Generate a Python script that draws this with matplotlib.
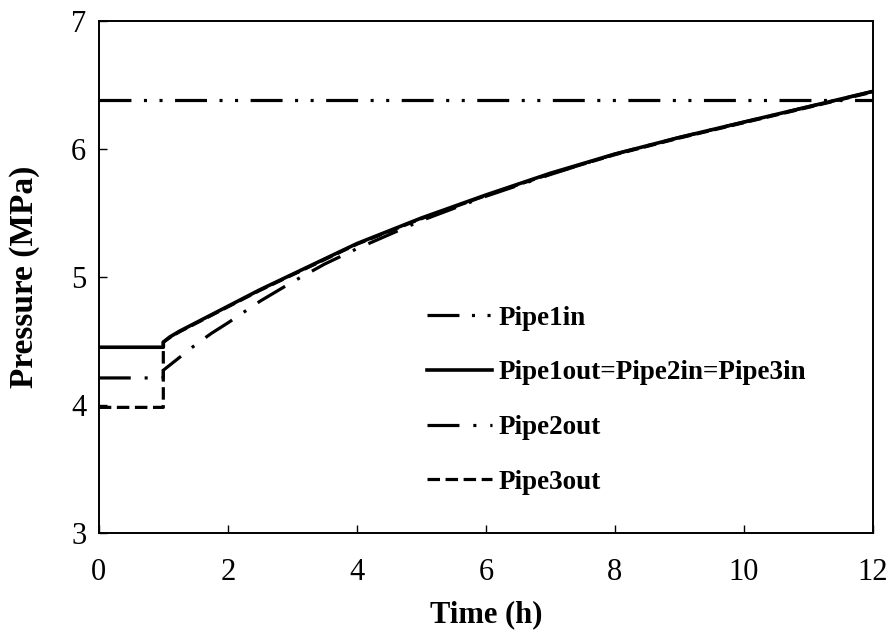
import matplotlib
matplotlib.use("Agg")
import matplotlib.pyplot as plt

plt.rcParams["font.family"] = ["Liberation Serif", "DejaVu Serif"]
plt.rcParams["lines.scale_dashes"] = False

# Time (h) and pressure (MPa) for each pipe end
time_in = [0.0, 12.0]
pipe1in = [6.385, 6.385]

time_main = [0.0, 1.0, 1.0, 1.1, 1.25, 1.5, 2.0, 2.5, 3.0, 3.5, 4.0, 4.5,
             5.0, 6.0, 7.0, 8.0, 9.0, 10.0, 11.0, 12.0]
pipe1out = [4.45, 4.45, 4.49, 4.53, 4.575, 4.64, 4.77, 4.90, 5.02, 5.14,
            5.26, 5.36, 5.46, 5.64, 5.81, 5.96, 6.09, 6.21, 6.33, 6.45]

time_p2 = [0.0, 1.0, 1.0, 1.1, 1.25, 1.5, 1.75, 2.0, 2.5, 3.0, 3.5, 4.0,
           4.5, 5.0, 6.0, 7.0, 8.0, 9.0, 10.0, 11.0, 12.0]
pipe2out = [4.21, 4.21, 4.27, 4.31, 4.37, 4.47, 4.56, 4.64, 4.81, 4.96,
            5.10, 5.22, 5.33, 5.44, 5.63, 5.80, 5.96, 6.09, 6.21, 6.33, 6.45]

pipe3out = [3.98, 3.98, 4.49, 4.525, 4.57, 4.635, 4.765, 4.895, 5.015, 5.135,
            5.255, 5.355, 5.455, 5.635, 5.805, 5.955, 6.085, 6.205, 6.325, 6.445]

x_ticks = [0, 2, 4, 6, 8, 10, 12]
y_ticks = [3, 4, 5, 6, 7]

fig = plt.figure(figsize=(8.9, 6.35), dpi=100)
ax = fig.add_axes([0.111, 0.161, 0.870, 0.806])

lw = 2.3
ax.plot(time_in, pipe1in, color="black", lw=lw,
        dashes=(23, 9, 2.2, 9, 2.2, 9), dash_capstyle="butt", label="Pipe1in", zorder=3)
ax.plot(time_main, pipe3out, color="black", lw=lw,
        dashes=(9, 4), dash_capstyle="butt", label="Pipe3out", zorder=2)
ax.plot(time_main, pipe1out, color="black", lw=lw + 0.3,
        label="Pipe1out=Pipe2in=Pipe3in", zorder=4)
ax.plot(time_p2, pipe2out, color="black", lw=lw,
        dashes=(23, 10, 2.2, 10), dash_capstyle="butt", label="Pipe2out", zorder=3)

ax.set_xlim(0, 12)
ax.set_ylim(3, 7)
ax.set_xticks(x_ticks)
ax.set_yticks(y_ticks)
ax.tick_params(direction="in", length=6, width=1, labelsize=22, top=False, right=False)
ax.tick_params(axis="x", pad=18)
ax.tick_params(axis="y", pad=9)
for s in ax.spines.values():
    s.set_linewidth(1.4)

ax.set_xlabel("Time (h)", fontsize=22, fontweight="bold", labelpad=10)
ax.set_ylabel("Pressure (MPa)", fontsize=24, fontweight="bold", labelpad=22)

handles, labels = ax.get_legend_handles_labels()
order = ["Pipe1in", "Pipe1out=Pipe2in=Pipe3in", "Pipe2out", "Pipe3out"]
hmap = dict(zip(labels, handles))
ax.legend([hmap[k] for k in order], order, loc="upper left",
          bbox_to_anchor=(0.424, 0.444), frameon=False,
          prop={"size": 19.5, "weight": "bold"}, handlelength=2.4,
          handletextpad=0.25, labelspacing=1.1, borderpad=0, borderaxespad=0)

fig.savefig("out.png", dpi=100)
